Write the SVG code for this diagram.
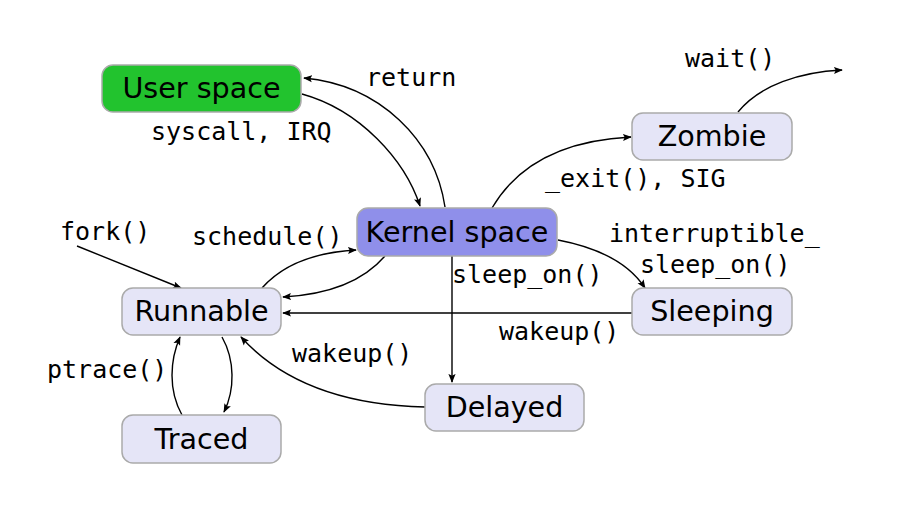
<svg xmlns="http://www.w3.org/2000/svg" width="918" height="509" viewBox="0 0 918 509">
<defs>
<marker id="ah" viewBox="0 0 10 10" refX="9" refY="5" markerWidth="9" markerHeight="9" markerUnits="userSpaceOnUse" orient="auto">
<path d="M0,1 L10,5 L0,9 L2,5 Z" fill="#000"/>
</marker>
</defs>
<style>
.node rect{stroke:#aaaaaa;stroke-width:1.5}
.light{fill:#e5e5f7}
.node text{font-family:"DejaVu Sans",sans-serif;font-size:28.6px;fill:#000;text-anchor:middle}
.edge path{fill:none;stroke:#000;stroke-width:1.4;marker-end:url(#ah)}
.lbl{font-family:"DejaVu Sans Mono",monospace;font-size:25px;fill:#000}
</style>
<rect width="918" height="509" fill="#fff"/>
<g id="connectors" class="edge">
<path d="M302,94 C360,110 405,160 420,206"/>
<path d="M445,207 C435,140 380,85 304,78"/>
<path d="M492,208 C520,160 570,140 631,137"/>
<path d="M738,112 C760,85 800,72 842,70"/>
<path d="M558,240 C600,248 630,265 645,288"/>
<path d="M452,256 L452,382"/>
<path d="M632,313 L283,313"/>
<path d="M425,407 C340,405 280,380 241,337"/>
<path d="M262,288 C285,262 320,252 356,250"/>
<path d="M385,256 C360,285 320,295 283,297"/>
<path d="M77,246 L181,288"/>
<path d="M222,337 C235,360 235,390 224,412"/>
<path d="M182,415 C168,390 170,360 180,337"/>
</g>
<g id="labels" class="lbl">
<text x="366" y="86">return</text>
<text x="151" y="140">syscall, IRQ</text>
<text x="685" y="67">wait()</text>
<text x="545" y="187">_exit(), SIG</text>
<text x="609" y="242">interruptible_</text>
<text x="640" y="273">sleep_on()</text>
<text x="452" y="283">sleep_on()</text>
<text x="499" y="340">wakeup()</text>
<text x="292" y="362">wakeup()</text>
<text x="60" y="240">fork()</text>
<text x="192" y="245">schedule()</text>
<text x="47" y="378">ptrace()</text>
</g>
<g id="user" class="node"><rect x="102" y="65" width="199" height="47" rx="11" fill="#22c32e"/><text x="201.5" y="98">User space</text></g>
<g id="kernel" class="node"><rect x="357" y="208" width="200" height="48" rx="11" fill="#8f8fea"/><text x="457" y="241.5">Kernel space</text></g>
<g id="zombie" class="node"><rect x="632" y="113" width="160" height="47" rx="11" class="light"/><text x="712" y="146">Zombie</text></g>
<g id="sleeping" class="node"><rect x="632" y="288" width="160" height="47" rx="11" class="light"/><text x="712" y="321">Sleeping</text></g>
<g id="runnable" class="node"><rect x="122" y="288" width="159" height="47" rx="11" class="light"/><text x="201.5" y="321">Runnable</text></g>
<g id="traced" class="node"><rect x="122" y="415" width="159" height="48" rx="11" class="light"/><text x="201.5" y="448.5">Traced</text></g>
<g id="delayed" class="node"><rect x="425" y="384" width="159" height="47" rx="11" class="light"/><text x="504.5" y="417">Delayed</text></g>
</svg>
